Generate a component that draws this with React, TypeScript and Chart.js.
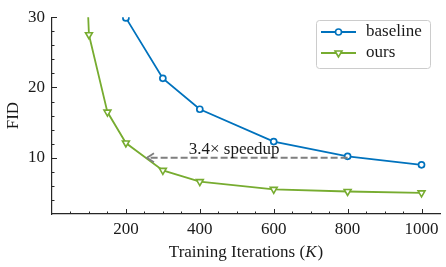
import React, { useEffect, useRef } from "react";
import { Chart, registerables } from "chart.js";
Chart.register(...registerables);

// ---- data ----
const iterationsBaseline = [200, 300, 400, 600, 800, 1000];
const fidBaseline = [29.9, 21.3, 16.9, 12.3, 10.2, 9.0];
const iterationsOurs = [50, 100, 150, 200, 300, 400, 600, 800, 1000];
const fidOurs = [90, 27.5, 16.5, 12.1, 8.2, 6.6, 5.5, 5.2, 5.0];
const seriesLabels = ["baseline", "ours"];
const xMajorTicks = [200, 400, 600, 800, 1000];
const yMajorTicks = [10, 20, 30];
const xMinorStep = 50;
const yMinorStep = 2;
const xRange = [0, 1050];
const yRange = [2, 30];
const arrowFrom = [800, 10];
const arrowTo = [257, 10];
const arrowLabel = "3.4× speedup";
const arrowLabelX = 493;
const xTitle = ["Training Iterations (", "K", ")"];
const yTitle = "FID";

const BLUE = "#0072BD";
const GREEN = "#77AC30";
const FONT = "'Liberation Serif', serif";
const TEXT = "#1a1a1a";
const AXIS = "#262626";

const decorPlugin = {
  id: "decor",
  afterDraw(chart: any) {
    const { ctx, chartArea, scales } = chart;
    const xs = scales.x;
    const ys = scales.y;
    ctx.save();
    // inward ticks
    ctx.strokeStyle = AXIS;
    ctx.lineWidth = 1;
    const drawXTick = (v: number, len: number) => {
      const px = Math.round(xs.getPixelForValue(v)) + 0.5;
      ctx.beginPath();
      ctx.moveTo(px, chartArea.bottom);
      ctx.lineTo(px, chartArea.bottom - len);
      ctx.stroke();
    };
    const drawYTick = (v: number, len: number) => {
      const py = Math.round(ys.getPixelForValue(v)) + 0.5;
      ctx.beginPath();
      ctx.moveTo(chartArea.left, py);
      ctx.lineTo(chartArea.left + len, py);
      ctx.stroke();
    };
    for (let v = xRange[0] + xMinorStep; v < xRange[1]; v += xMinorStep) {
      drawXTick(v, xMajorTicks.includes(v) ? 5 : 2.5);
    }
    for (let v = yRange[0] + yMinorStep; v <= yRange[1]; v += yMinorStep) {
      drawYTick(v, yMajorTicks.includes(v) ? 5 : 2.5);
    }

    // arrow
    const ax0 = xs.getPixelForValue(arrowFrom[0]);
    const ay0 = ys.getPixelForValue(arrowFrom[1]);
    const ax1 = xs.getPixelForValue(arrowTo[0]);
    const ay1 = ys.getPixelForValue(arrowTo[1]);
    ctx.strokeStyle = "#7f7f7f";
    ctx.lineWidth = 1.8;
    ctx.setLineDash([7, 3]);
    ctx.beginPath();
    ctx.moveTo(ax0, ay0);
    ctx.lineTo(ax1, ay1);
    ctx.stroke();
    ctx.setLineDash([]);
    ctx.beginPath();
    ctx.moveTo(ax1 + 7, ay1 - 4.5);
    ctx.lineTo(ax1, ay1);
    ctx.lineTo(ax1 + 7, ay1 + 4.5);
    ctx.stroke();

    ctx.fillStyle = TEXT;
    ctx.font = `17px ${FONT}`;
    ctx.textAlign = "center";
    ctx.textBaseline = "alphabetic";
    ctx.fillText(arrowLabel, xs.getPixelForValue(arrowLabelX), ay0 - 4);

    // x title with italic K
    const f1 = `17px ${FONT}`;
    const f2 = `italic 17px ${FONT}`;
    ctx.font = f1;
    const w1 = ctx.measureText(xTitle[0]).width;
    const w3 = ctx.measureText(xTitle[2]).width;
    ctx.font = f2;
    const w2 = ctx.measureText(xTitle[1]).width + 1;
    const cx = (chartArea.left + chartArea.right) / 2;
    let tx = cx - (w1 + w2 + w3) / 2;
    const ty = 257;
    ctx.textAlign = "left";
    ctx.font = f1;
    ctx.fillText(xTitle[0], tx, ty);
    tx += w1;
    ctx.font = f2;
    ctx.fillText(xTitle[1], tx, ty);
    tx += w2;
    ctx.font = f1;
    ctx.fillText(xTitle[2], tx, ty);

    // y title
    ctx.save();
    ctx.translate(18, (chartArea.top + chartArea.bottom) / 2);
    ctx.rotate(-Math.PI / 2);
    ctx.textAlign = "center";
    ctx.textBaseline = "alphabetic";
    ctx.font = f1;
    ctx.fillText(yTitle, 0, 0);
    ctx.restore();

    // legend
    const lx = 316.5, ly = 20.5, lw = 114, lh = 48;
    ctx.beginPath();
    ctx.roundRect(lx, ly, lw, lh, 3);
    ctx.fillStyle = "rgba(255,255,255,0.85)";
    ctx.fill();
    ctx.strokeStyle = "#cccccc";
    ctx.lineWidth = 1;
    ctx.stroke();
    const rows = [
      { label: seriesLabels[0], color: BLUE, marker: "circle", y: 32 },
      { label: seriesLabels[1], color: GREEN, marker: "triangle", y: 53 },
    ];
    rows.forEach((r) => {
      ctx.strokeStyle = r.color;
      ctx.lineWidth = 1.8;
      ctx.beginPath();
      ctx.moveTo(321, r.y);
      ctx.lineTo(356, r.y);
      ctx.stroke();
      ctx.lineWidth = 1.6;
      ctx.fillStyle = "#fff";
      ctx.beginPath();
      if (r.marker === "circle") {
        ctx.arc(338.5, r.y, 3, 0, Math.PI * 2);
      } else {
        const rr = 4;
        for (let i = 0; i < 3; i++) {
          const a = Math.PI + (i * 2 * Math.PI) / 3;
          const px = 338.5 + Math.sin(a) * rr;
          const py = r.y - Math.cos(a) * rr;
          if (i === 0) ctx.moveTo(px, py);
          else ctx.lineTo(px, py);
        }
        ctx.closePath();
      }
      ctx.fill();
      ctx.stroke();
      ctx.fillStyle = TEXT;
      ctx.font = f1;
      ctx.textAlign = "left";
      ctx.textBaseline = "middle";
      ctx.fillText(r.label, 366, r.y);
    });
    ctx.restore();
  },
};

export default function App() {
  const ref = useRef<HTMLCanvasElement | null>(null);
  useEffect(() => {
    document.body.style.margin = "0";
    const canvas = ref.current!;
    const chart = new Chart(canvas, {
      type: "line",
      data: {
        datasets: [
          {
            label: seriesLabels[0],
            data: iterationsBaseline.map((x, i) => ({ x, y: fidBaseline[i] })),
            borderColor: BLUE,
            backgroundColor: "#ffffff",
            borderWidth: 1.8,
            pointRadius: 3,
            pointBorderWidth: 1.7,
            pointStyle: "circle",
          },
          {
            label: seriesLabels[1],
            data: iterationsOurs.map((x, i) => ({ x, y: fidOurs[i] })),
            borderColor: GREEN,
            backgroundColor: "#ffffff",
            borderWidth: 1.8,
            pointRadius: 4,
            pointBorderWidth: 1.6,
            pointStyle: "triangle",
            pointRotation: 180,
          },
        ],
      },
      options: {
        animation: false,
        responsive: false,
        devicePixelRatio: 1,
        layout: { padding: { top: 12, right: 6, left: 0, bottom: 0 } },
        plugins: { legend: { display: false }, tooltip: { enabled: false } },
        scales: {
          x: {
            type: "linear",
            min: xRange[0],
            max: xRange[1],
            afterBuildTicks: (s: any) => {
              s.ticks = xMajorTicks.map((v) => ({ value: v }));
            },
            afterFit: (s: any) => {
              s.height = 53;
            },
            grid: { display: false, drawTicks: false },
            border: { display: true, color: AXIS, width: 1.2 },
            ticks: {
              color: TEXT,
              font: { family: FONT, size: 17 },
              padding: 5,
              maxRotation: 0,
              autoSkip: false,
              callback: (v: any) => String(v),
            },
          },
          y: {
            type: "linear",
            min: yRange[0],
            max: yRange[1],
            afterBuildTicks: (s: any) => {
              s.ticks = yMajorTicks.map((v) => ({ value: v }));
            },
            afterFit: (s: any) => {
              s.width = 52;
            },
            grid: { display: false, drawTicks: false },
            border: { display: true, color: AXIS, width: 1.2 },
            ticks: {
              color: TEXT,
              font: { family: FONT, size: 17 },
              padding: 7,
              autoSkip: false,
              callback: (v: any) => String(v),
            },
          },
        },
      },
      plugins: [decorPlugin],
    } as any);
    return () => chart.destroy();
  }, []);
  return (
    <div style={{ position: "absolute", left: 0, top: 0, width: 446, height: 267 }}>
      <canvas ref={ref} width={446} height={267} style={{ width: 446, height: 267 }} />
    </div>
  );
}
